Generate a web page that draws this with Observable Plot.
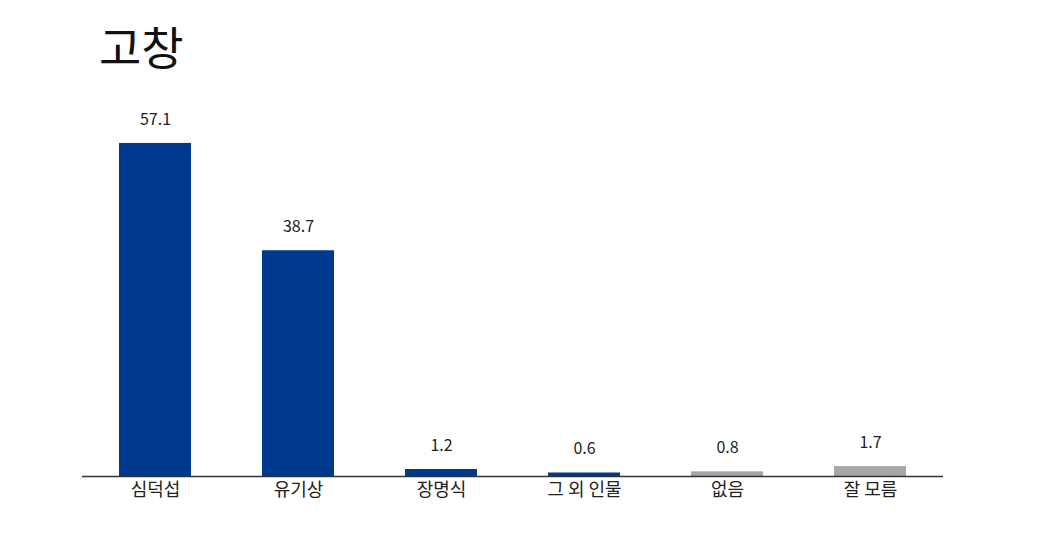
<!DOCTYPE html>
<html><head><meta charset="utf-8">
<script src="https://cdn.jsdelivr.net/npm/d3@7"></script>
<script src="https://cdn.jsdelivr.net/npm/@observablehq/plot@0.6"></script>
<style>
body{margin:0;background:#fff;font-family:"Noto Sans CJK KR","Noto Sans",sans-serif;}
#wrap{position:relative;width:1062px;height:555px;overflow:hidden;}
#title{height:90px;font-size:46px;line-height:1;padding-left:99px;padding-top:22px;box-sizing:border-box;color:#111;}
</style></head>
<body><div id="wrap"><div id="title">고창</div><div id="chart"></div></div>
<script>
const categories = ["심덕섭","유기상","장명식","그 외 인물","없음","잘 모름"];
const values = [57.1, 38.7, 1.2, 0.6, 0.8, 1.7];
const groups = ["후보","후보","후보","후보","기타","기타"];
const data = categories.map((c,i)=>({c, v: values[i], g: groups[i]}));
const chart = Plot.plot({
  width: 1062, height: 465,
  marginLeft: 82, marginRight: 119, marginTop: 36, marginBottom: 79,
  style: {fontFamily: '"Noto Sans CJK KR","Noto Sans",sans-serif', background: "#fff"},
  x: {domain: categories, paddingInner: 0.5, paddingOuter: 0.25, label: null},
  y: {domain: [0, 60], axis: null},
  color: {domain: ["후보","기타"], range: ["#003a8f","#a6a6a6"]},
  marks: [
    Plot.barY(data, {x: "c", y: "v", fill: "g"}),
    Plot.ruleY([0], {stroke: "#333", strokeWidth: 1.3}),
    Plot.text(data, {x: "c", y: "v", text: d => d.v.toFixed(1), dy: -24, fontSize: 16, fill: "#222"}),
    Plot.axisX({tickSize: 0, tickPadding: 7, fontSize: 18, fill: "#222", label: null})
  ]
});
document.getElementById("chart").appendChild(chart);
</script></body></html>
